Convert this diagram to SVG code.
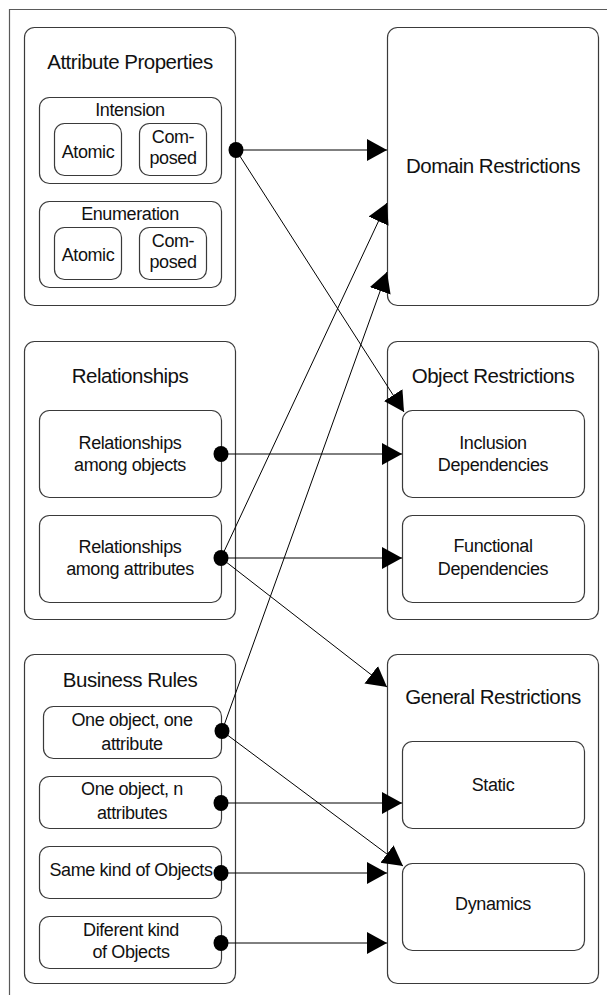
<svg xmlns="http://www.w3.org/2000/svg" width="607" height="995" viewBox="0 0 607 995">
  <defs>
    <style>
      .frame { fill: none; stroke: #5a5a5a; stroke-width: 1.2; }
      .box { fill: #ffffff; stroke: #3a3a3a; stroke-width: 1.2; }
      .title { font-family: "Liberation Sans", Arial, sans-serif; font-size: 20.5px; letter-spacing: -0.5px; fill: #111; text-anchor: middle; }
      .label { font-family: "Liberation Sans", Arial, sans-serif; font-size: 18px; letter-spacing: -0.4px; fill: #111; text-anchor: middle; }
      .link { fill: none; stroke: #000; stroke-width: 1; marker-end: url(#arrow); }
      .dot { fill: #000; }
    </style>
    <marker id="arrow" markerUnits="userSpaceOnUse" markerWidth="21" markerHeight="23" refX="20" refY="11" orient="auto">
      <path d="M0,0 L20,11 L0,22 z" fill="#000"/>
    </marker>
  </defs>

  <!-- page frame, open to the right and bottom -->
  <path class="frame" d="M9.5,995 V9.5 H607"/>

  <!-- left column: sources -->
  <g id="attribute-properties">
    <rect class="box" x="24.5" y="27.5" width="211" height="278" rx="10"/>
    <text class="title" x="130" y="69">Attribute Properties</text>
    <g id="intension">
      <rect class="box" x="39.5" y="97.5" width="182" height="86" rx="10"/>
      <text class="label" x="130" y="116">Intension</text>
      <g id="intension-atomic">
        <rect class="box" x="54.5" y="123.5" width="67" height="52" rx="10"/>
        <text class="label" x="88" y="158">Atomic</text>
      </g>
      <g id="intension-composed">
        <rect class="box" x="139.5" y="123.5" width="67" height="52" rx="10"/>
        <text class="label" x="173" y="143">Com-</text>
        <text class="label" x="173" y="164">posed</text>
      </g>
    </g>
    <g id="enumeration">
      <rect class="box" x="39.5" y="201.5" width="182" height="86" rx="10"/>
      <text class="label" x="130" y="220">Enumeration</text>
      <g id="enumeration-atomic">
        <rect class="box" x="54.5" y="227.5" width="67" height="52" rx="10"/>
        <text class="label" x="88" y="261">Atomic</text>
      </g>
      <g id="enumeration-composed">
        <rect class="box" x="139.5" y="227.5" width="67" height="52" rx="10"/>
        <text class="label" x="173" y="247">Com-</text>
        <text class="label" x="173" y="268">posed</text>
      </g>
    </g>
  </g>

  <g id="relationships">
    <rect class="box" x="24.5" y="341.5" width="211" height="278" rx="10"/>
    <text class="title" x="130" y="383">Relationships</text>
    <g id="rel-objects">
      <rect class="box" x="39.5" y="410.5" width="182" height="87" rx="10"/>
      <text class="label" x="130" y="449">Relationships</text>
      <text class="label" x="130" y="471">among objects</text>
    </g>
    <g id="rel-attributes">
      <rect class="box" x="39.5" y="515.5" width="182" height="87" rx="10"/>
      <text class="label" x="130" y="553">Relationships</text>
      <text class="label" x="130" y="575">among attributes</text>
    </g>
  </g>

  <g id="business-rules">
    <rect class="box" x="24.5" y="654.5" width="211" height="329" rx="10"/>
    <text class="title" x="130" y="687">Business Rules</text>
    <g id="br-one-one">
      <rect class="box" x="43.5" y="706.5" width="178" height="52" rx="10"/>
      <text class="label" x="132" y="726">One object, one</text>
      <text class="label" x="132" y="750">attribute</text>
    </g>
    <g id="br-one-n">
      <rect class="box" x="39.5" y="776.5" width="182" height="52" rx="10"/>
      <text class="label" x="132" y="795">One object, n</text>
      <text class="label" x="132" y="819">attributes</text>
    </g>
    <g id="br-same-kind">
      <rect class="box" x="39.5" y="846.5" width="182" height="52" rx="10"/>
      <text class="label" x="131" y="876">Same kind of Objects</text>
    </g>
    <g id="br-different-kind">
      <rect class="box" x="39.5" y="916.5" width="182" height="52" rx="10"/>
      <text class="label" x="131" y="936">Diferent kind</text>
      <text class="label" x="131" y="958">of Objects</text>
    </g>
  </g>

  <!-- right column: targets -->
  <g id="domain-restrictions">
    <rect class="box" x="387.5" y="27.5" width="211" height="278" rx="10"/>
    <text class="title" x="493" y="173">Domain Restrictions</text>
  </g>

  <g id="object-restrictions">
    <rect class="box" x="387.5" y="341.5" width="211" height="278" rx="10"/>
    <text class="title" x="493" y="383">Object Restrictions</text>
    <g id="inclusion">
      <rect class="box" x="402.5" y="410.5" width="182" height="87" rx="10"/>
      <text class="label" x="493" y="449">Inclusion</text>
      <text class="label" x="493" y="471">Dependencies</text>
    </g>
    <g id="functional">
      <rect class="box" x="402.5" y="515.5" width="182" height="87" rx="10"/>
      <text class="label" x="493" y="552">Functional</text>
      <text class="label" x="493" y="575">Dependencies</text>
    </g>
  </g>

  <g id="general-restrictions">
    <rect class="box" x="387.5" y="654.5" width="211" height="329" rx="10"/>
    <text class="title" x="493" y="704">General Restrictions</text>
    <g id="static">
      <rect class="box" x="402.5" y="741.5" width="182" height="87" rx="10"/>
      <text class="label" x="493" y="791">Static</text>
    </g>
    <g id="dynamics">
      <rect class="box" x="402.5" y="863.5" width="182" height="87" rx="10"/>
      <text class="label" x="493" y="910">Dynamics</text>
    </g>
  </g>

  <!-- connectors -->
  <g id="connectors">
    <line class="link" x1="236" y1="150" x2="387" y2="150"/>
    <line class="link" x1="236" y1="150" x2="404" y2="412"/>
    <line class="link" x1="221" y1="454" x2="402" y2="454"/>
    <line class="link" x1="221" y1="558" x2="387" y2="203"/>
    <line class="link" x1="221" y1="558" x2="402" y2="558"/>
    <line class="link" x1="221" y1="558" x2="387" y2="687"/>
    <line class="link" x1="222" y1="731" x2="387" y2="272"/>
    <line class="link" x1="222" y1="731" x2="403" y2="866"/>
    <line class="link" x1="221" y1="803" x2="402" y2="803"/>
    <line class="link" x1="221" y1="873" x2="387" y2="873"/>
    <line class="link" x1="221" y1="943" x2="387" y2="943"/>

    <ellipse class="dot" cx="236" cy="150" rx="7.5" ry="8"/>
    <ellipse class="dot" cx="221" cy="454" rx="7.5" ry="8"/>
    <ellipse class="dot" cx="221" cy="558" rx="7.5" ry="8"/>
    <ellipse class="dot" cx="222" cy="731" rx="7.5" ry="8"/>
    <ellipse class="dot" cx="221" cy="803" rx="7.5" ry="8"/>
    <ellipse class="dot" cx="221" cy="873" rx="7.5" ry="8"/>
    <ellipse class="dot" cx="221" cy="943" rx="7.5" ry="8"/>
  </g>
</svg>
